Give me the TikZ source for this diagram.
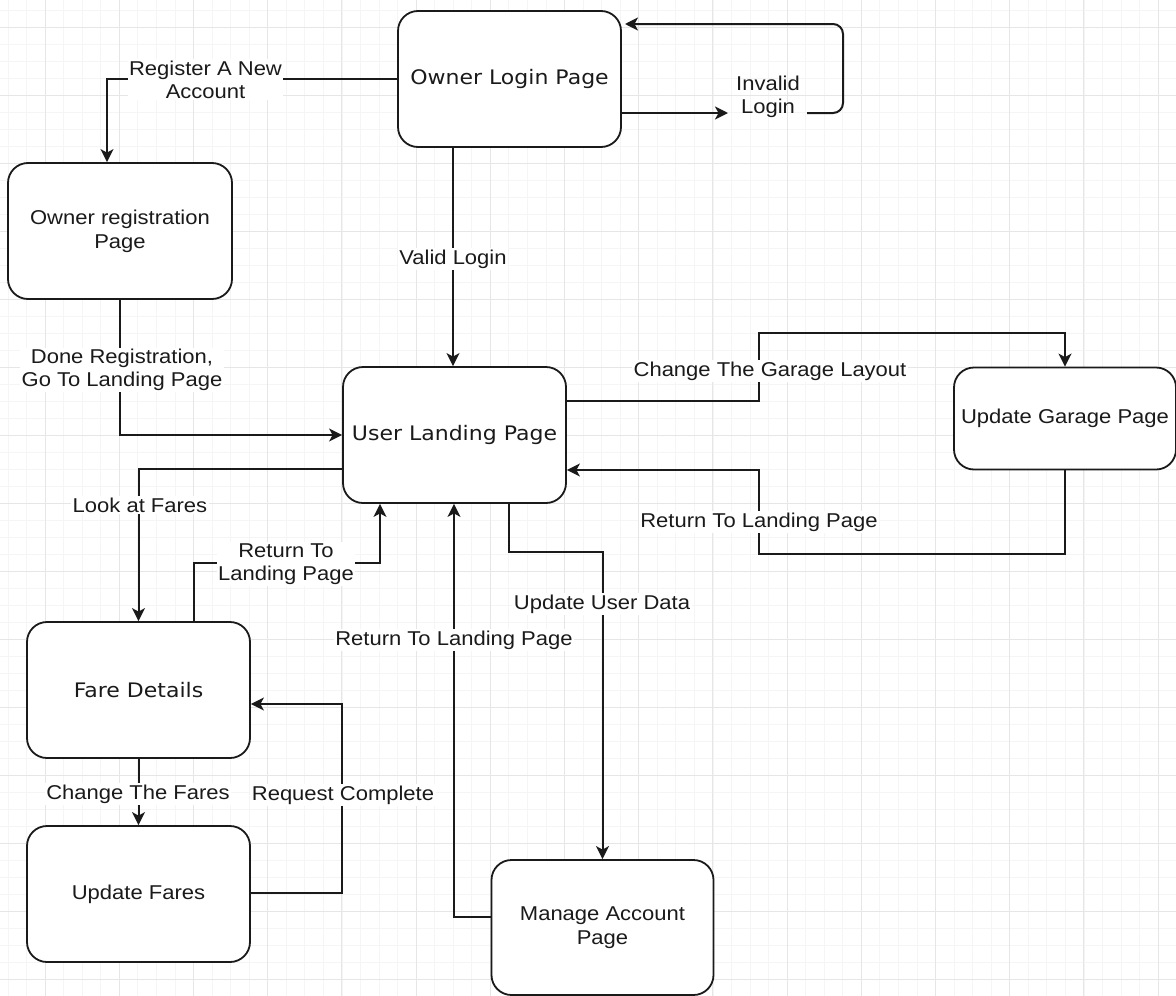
\documentclass[tikz,border=0pt]{standalone}
\usepackage{fontspec}
\usetikzlibrary{arrows.meta}
\newfontfamily\boxfontA[FakeStretch=1.1]{DejaVu Sans}
\newfontfamily\labfontA[FakeStretch=1.1]{Liberation Sans}
\definecolor{gridmajor}{HTML}{E6E6E6}
\definecolor{gridminor}{HTML}{F5F5F5}
\definecolor{ink}{HTML}{1A1A1A}
\tikzset{
  pagebox/.style={draw=ink, line width=1.8pt, rounded corners=20pt, fill=white,
    align=center, inner sep=0pt, text=ink},
  vbox/.style={pagebox, font=\boxfontA\fontsize{20}{24}\selectfont},
  abox/.style={pagebox, font=\labfontA\fontsize{20}{24}\selectfont},
  lab/.style={fill=white, inner sep=1.5pt, align=center, text=ink,
    font=\labfontA\fontsize{20}{23}\selectfont},
  arr/.style={draw=ink, line width=2pt, -{Stealth[length=13pt,width=13pt,inset=3.5pt]}}
}
\begin{document}
\begin{tikzpicture}[x=1pt,y=-1pt]
\useasboundingbox (0,0) rectangle (1176,996);
\fill[white] (0,0) rectangle (1176,996);
% grid
\foreach \k in {0,...,63} {\draw[gridminor, line width=0.8pt] ({8.0+18.55*\k},0) -- ({8.0+18.55*\k},996);}
\foreach \k in {0,...,58} {\draw[gridminor, line width=0.8pt] (0,{10.7+17*\k}) -- (1176,{10.7+17*\k});}
\foreach \k in {0,...,15} {\draw[gridmajor, line width=1pt] ({45.1+74.2*\k},0) -- ({45.1+74.2*\k},996);}
\foreach \k in {0,...,14} {\draw[gridmajor, line width=1pt] (0,{27.7+68*\k}) -- (1176,{27.7+68*\k});}

% nodes
\node[vbox, minimum width=223pt, minimum height=136pt] (olp) at (509.5,79) {Owner Login Page};
\node[abox, minimum width=224pt, minimum height=136pt] (orp) at (120,231) {Owner registration\\Page};
\node[vbox, minimum width=223pt, minimum height=136pt] (ulp) at (454.5,435) {User Landing Page};
\node[abox, minimum width=222pt, minimum height=102pt] (ugp) at (1065,418.5) {Update Garage Page};
\node[vbox, minimum width=223pt, minimum height=136pt] (fd) at (138.5,690) {Fare Details};
\node[abox, minimum width=223pt, minimum height=136pt] (uf) at (138.5,894) {Update Fares};
\node[abox, minimum width=222pt, minimum height=135pt] (map) at (602.5,927.5) {Manage Account\\Page};

% connectors
\draw[arr] (olp.west) -| (107,0 |- orp.north);
\node[lab] (l1) at (205.5,79.5) {Register A New\\Account};

\draw[arr] (453,0 |- olp.south) -- (453,0 |- ulp.north);
\node[lab] (l2) at (453,259) {Valid Login};

\node[lab, fill=none] (inv) at (768,97) {Invalid\\Login};
\coordinate (invin) at (728,113);
\coordinate (invout) at (807,113);
\draw[arr] (olp.east |- invin) -- (invin);
\draw[arr, rounded corners=10pt] (invout) -- (843,113) -- (843,24) -- (625,24);

\draw[arr] (orp.south) |- (ulp.west);
\node[lab] (l3) at (122,370) {Done Registration,\\Go To Landing Page};

\draw[arr] (ulp.west |- 0,469) -| (fd.north);
\node[lab] (l4) at (140,505) {Look at Fares};

\draw[arr] (194,0 |- fd.north) |- (380,563) -- (380,0 |- ulp.south);
\node[lab] (l5) at (286,564) {Return To\\Landing Page};

\draw[arr] (map.west |- 0,917) -| (454,0 |- ulp.south);
\node[lab] (l6) at (454,640) {Return To Landing Page};

\draw[arr] (509,0 |- ulp.south) |- (602.5,552) -- (map.north);
\node[lab] (l7) at (602,604) {Update User Data};

\draw[arr] (fd.south) -- (uf.north);
\node[lab] (l8) at (138,794) {Change The Fares};

\draw[arr] (uf.east |- 0,893) -| (342,704) -- (fd.east |- 0,704);
\node[lab] (l9) at (343,795) {Request Complete};

\draw[arr] (ulp.east |- 0,401) -| (759,333) -| (ugp.north);
\node[lab] (l10) at (770,371) {Change The Garage Layout};

\draw[arr] (ugp.south) |- (759,554) |- (ulp.east |- 0,470);
\node[lab] (l11) at (759,522) {Return To Landing Page};
\end{tikzpicture}
\end{document}
